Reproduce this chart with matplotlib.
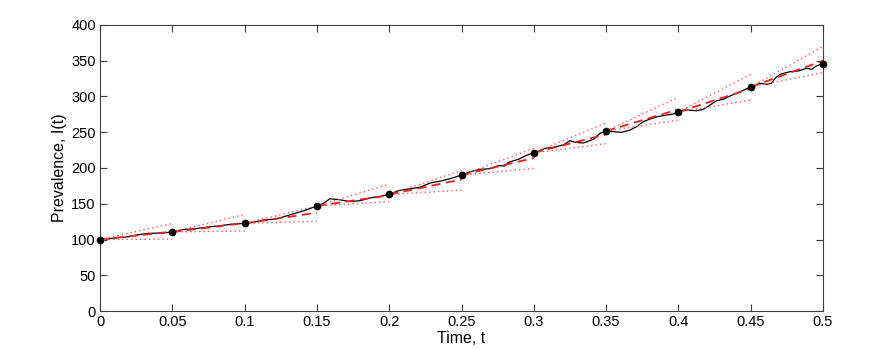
import matplotlib

matplotlib.use("Agg")
import matplotlib.pyplot as plt
import numpy as np

path_t = [0, 0.008, 0.0196, 0.0265, 0.0334, 0.0426, 0.05, 0.0565, 0.0657, 0.0749,
          0.083, 0.0899, 0.1, 0.106, 0.113, 0.122, 0.1314, 0.1406, 0.15, 0.1545,
          0.159, 0.166, 0.173, 0.18, 0.187, 0.194, 0.2, 0.2063, 0.2132, 0.2213,
          0.2282, 0.235, 0.242, 0.25, 0.256, 0.2628, 0.2697, 0.2755, 0.28, 0.2824,
          0.2893, 0.295, 0.3, 0.3043, 0.3077, 0.3135, 0.3204, 0.325, 0.3285, 0.3343,
          0.3412, 0.3458, 0.35, 0.355, 0.3608, 0.3665, 0.3711, 0.3757, 0.3804, 0.385,
          0.392, 0.3965, 0.4, 0.4057, 0.4126, 0.4172, 0.4219, 0.4265, 0.431, 0.4357,
          0.4426, 0.45, 0.4541, 0.4564, 0.461, 0.4645, 0.4668, 0.4703, 0.4772, 0.4829,
          0.4887, 0.4922, 0.4956, 0.5]
path_I = [100, 101.7, 103.9, 106.7, 108.6, 109, 110.5, 113.7, 115.1, 117.5,
          119.2, 121.2, 122.6, 124, 127.3, 128.8, 134.5, 140, 146.9, 150.6,
          157, 155.5, 153, 154.3, 158.3, 160.2, 163, 168.3, 170.6, 173,
          179, 181.5, 185, 190, 194.8, 198.2, 199, 203.3, 202.8, 208,
          212.1, 217.7, 221.4, 224.5, 227.5, 229, 232.2, 238.2, 235.9, 235,
          240, 248.5, 251.7, 250.8, 249.9, 253.1, 257.8, 264.8, 268.5, 271.5,
          274.1, 275.5, 278.3, 281.1, 280.1, 282.1, 288.1, 294.1, 296, 300.7,
          306.7, 313.3, 316.5, 318.5, 317, 318.5, 325.4, 331, 334.7, 335.7,
          339.4, 338, 343, 346]

# observation times and values, plus one-step predictions from each
obs_t = [0, 0.05, 0.1, 0.15, 0.2, 0.25, 0.3, 0.35, 0.4, 0.45, 0.5]
obs_I = [100, 110.5, 122.6, 146.9, 163, 190, 221.4, 251.7, 278.3, 313.3, 346]
pred_mean = [111, 123, 137.5, 162, 184, 214, 247, 282, 311, 350]
pred_upper = [122.5, 135, 147, 177.5, 196.5, 227.5, 263, 299, 331, 370]
pred_lower = [100.5, 112, 125.5, 153, 169, 199.5, 234, 267, 295, 333.5]

plt.rcParams["font.family"] = ["Liberation Sans", "DejaVu Sans"]

fig = plt.figure(figsize=(8.9, 3.5), dpi=100)
ax = fig.add_axes([0.1124, 0.1114, 0.8123, 0.8172])

ax.plot(path_t, path_I, color="black", linewidth=0.9, zorder=2)

for k in range(len(pred_mean)):
    seg_t = [obs_t[k], obs_t[k + 1]]
    ax.plot(seg_t, [obs_I[k], pred_mean[k]], color="#e8201c", linewidth=1.3,
            dashes=(5, 3), zorder=3)
    ax.plot(seg_t, [obs_I[k], pred_upper[k]], color="#f25a5a", linewidth=1.0,
            dashes=(1, 2.2), zorder=3)
    ax.plot(seg_t, [obs_I[k], pred_lower[k]], color="#f25a5a", linewidth=1.0,
            dashes=(1, 2.2), zorder=3)

ax.plot(obs_t, obs_I, "o", color="black", markersize=4.5, zorder=4, clip_on=False)

ax.set_xlim(0, 0.5)
ax.set_ylim(0, 400)
xt = np.arange(0, 0.501, 0.05)
ax.set_xticks(xt)
ax.set_xticklabels(["0", "0.05", "0.1", "0.15", "0.2", "0.25", "0.3", "0.35",
                    "0.4", "0.45", "0.5"])
ax.set_yticks(np.arange(0, 401, 50))
ax.tick_params(direction="in", top=True, right=True, length=5, width=0.8,
               labelsize=10.5, pad=3, color="#404040")
for sp in ax.spines.values():
    sp.set_color("#404040")
    sp.set_linewidth(0.8)

ax.set_xlabel("Time, t", fontsize=11.5, labelpad=1)
ax.set_ylabel("Prevalence, I(t)", fontsize=11.5, labelpad=3)

fig.savefig("out.png", dpi=100)
